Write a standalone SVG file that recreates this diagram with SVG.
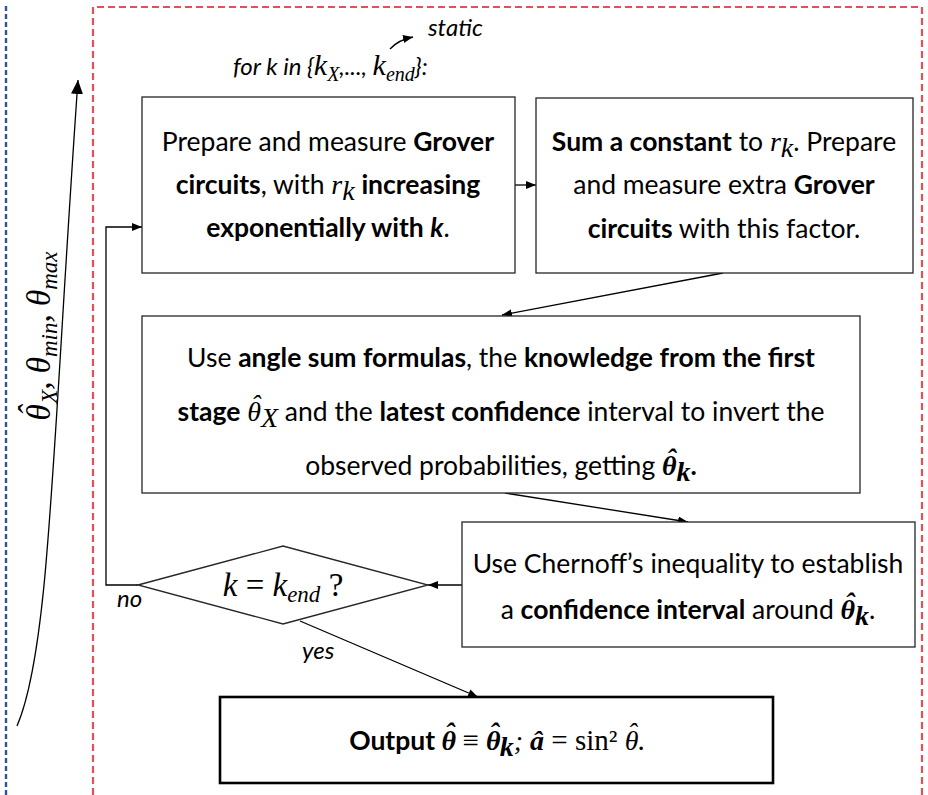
<svg xmlns="http://www.w3.org/2000/svg" width="928" height="795" viewBox="0 0 928 795">
<style>
.box{fill:#fff;stroke:#262626;stroke-width:1.3}
.t{font-family:Lato,"Open Sans",sans-serif;font-size:26.5px;fill:#000;text-anchor:middle}
.b{font-weight:bold}
.m{font-family:"Liberation Serif",serif;font-style:italic;font-size:28px}
.r{font-family:"Liberation Serif",serif;font-size:29px}
.it{font-style:italic}
.c{fill:none;stroke:#000;stroke-width:1.3}
.lab{font-family:Lato,"Open Sans",sans-serif;font-style:italic;font-size:24px;fill:#000}
</style>
<defs>
<marker id="ah" viewBox="0 0 10 8" refX="10" refY="4" markerWidth="10" markerHeight="8" markerUnits="userSpaceOnUse" orient="auto"><path d="M0,0 L10,4 L0,8 z" fill="#000"/></marker>
<marker id="ahbig" viewBox="0 0 14 12" refX="14" refY="6" markerWidth="14" markerHeight="12" markerUnits="userSpaceOnUse" orient="auto"><path d="M0,0 L14,6 L0,12 z" fill="#000"/></marker>
</defs>
<rect width="928" height="795" fill="#fff"/>
<g id="frames">
<path d="M6,6 V795" fill="none" stroke="#2e5597" stroke-width="2.4" stroke-dasharray="5 3"/>
<path d="M93,795 V7 H922 V795" fill="none" stroke="#e3505a" stroke-width="2.2" stroke-dasharray="7 4"/>
</g>
<g id="input-label">
<path d="M17,726 C50,650 52,450 78,80" class="c" marker-end="url(#ahbig)"/>
<text transform="translate(50,336) rotate(-90)" font-family="Liberation Serif,serif" font-style="italic" font-size="33" text-anchor="middle"><tspan dx="0 -12" dy="0 -8">θˆ</tspan><tspan font-size="23" dx="1.5" dy="15">X</tspan><tspan dy="-7">, θ</tspan><tspan font-size="23" dy="7">min</tspan><tspan dy="-7">, θ</tspan><tspan font-size="23" dy="7">max</tspan></text>
</g>
<g id="loop-label">
<text class="lab" x="233" y="75" font-size="26.5">for k in {<tspan font-family="Liberation Serif,serif" font-size="30">k</tspan><tspan font-family="Liberation Serif,serif" font-size="20" dy="6">X</tspan><tspan dy="-6">,..., </tspan><tspan font-family="Liberation Serif,serif" font-size="30">k</tspan><tspan font-family="Liberation Serif,serif" font-size="20" dy="6">end</tspan><tspan dy="-6">}:</tspan></text>
<text class="lab" x="428" y="36">static</text>
<path d="M390,49 Q398,40 413,37" class="c" stroke-width="1.2" marker-end="url(#ah)"/>
</g>
<g id="connectors">
<path d="M515,185 H536" class="c" marker-end="url(#ah)"/>
<path d="M723,273 L502,315" class="c" marker-end="url(#ah)"/>
<path d="M505,493 L688,522" class="c" marker-end="url(#ah)"/>
<path d="M462,585 H428" class="c" marker-end="url(#ah)"/>
<path d="M138,585 H106 V227 H142" class="c" marker-end="url(#ah)"/>
<path d="M300,621 L478,697" class="c" marker-end="url(#ah)"/>
<text class="lab" x="117" y="607">no</text>
<text class="lab" x="302" y="659">yes</text>
</g>
<g id="node-grover">
<rect class="box" x="142" y="97" width="373" height="176"/>
<text class="t" x="328" y="151">Prepare and measure <tspan class="b">Grover</tspan></text>
<text class="t" x="328" y="194"><tspan class="b">circuits</tspan>, with <tspan class="m">r</tspan><tspan class="m" font-size="19" dy="6">k</tspan><tspan dy="-6"> </tspan><tspan class="b">increasing</tspan></text>
<text class="t" x="328" y="237"><tspan class="b">exponentially with </tspan><tspan class="b it">k</tspan>.</text>
</g>
<g id="node-constant">
<rect class="box" x="536" y="98" width="377" height="175"/>
<text class="t" x="724" y="151"><tspan class="b">Sum a constant</tspan> to <tspan class="m">r</tspan><tspan class="m" font-size="19" dy="6">k</tspan><tspan dy="-6">. Prepare</tspan></text>
<text class="t" x="724" y="194">and measure extra <tspan class="b">Grover</tspan></text>
<text class="t" x="724" y="238"><tspan class="b">circuits</tspan> with this factor.</text>
</g>
<g id="node-invert">
<rect class="box" x="142" y="316" width="718" height="177"/>
<text class="t" x="501" y="367">Use <tspan class="b">angle sum formulas</tspan>, the <tspan class="b">knowledge from the first</tspan></text>
<text class="t" x="501" y="421"><tspan class="b">stage</tspan> <tspan class="m" dx="0 -10" dy="0 -7">θˆ</tspan><tspan class="m" font-size="19" dx="0.7" dy="13">X</tspan><tspan dy="-6"> and the </tspan><tspan class="b">latest confidence</tspan> interval to invert the</text>
<text class="t" x="501" y="475">observed probabilities, getting <tspan class="m b" dx="0 -10" dy="0 -7">θˆ</tspan><tspan class="m b" font-size="19" dx="0.7" dy="13">k</tspan><tspan class="b" dy="-6">.</tspan></text>
</g>
<g id="node-chernoff">
<rect class="box" x="462" y="522" width="453" height="125"/>
<text class="t" x="688" y="573">Use Chernoff’s inequality to establish</text>
<text class="t" x="688" y="619">a <tspan class="b">confidence interval</tspan> around <tspan class="m b" dx="0 -10" dy="0 -7">θˆ</tspan><tspan class="m b" font-size="19" dx="0.7" dy="13">k</tspan><tspan dy="-6">.</tspan></text>
</g>
<g id="node-decision">
<polygon class="box" points="138,585 283,546 428,585 283,624"/>
<text x="283" y="596" font-family="Liberation Serif,serif" font-size="33" text-anchor="middle"><tspan font-style="italic">k</tspan> = <tspan font-style="italic">k</tspan><tspan font-style="italic" font-size="23" dy="6">end</tspan><tspan dy="-6"> ?</tspan></text>
</g>
<g id="node-output">
<rect x="220" y="697" width="553" height="86" fill="#fff" stroke="#000" stroke-width="2.6"/>
<text class="t" x="497" y="750" font-size="28"><tspan class="b">Output </tspan><tspan class="m b" font-size="30" dx="0 -11" dy="0 -8">θˆ</tspan><tspan class="r" font-size="30" dx="0.8" dy="8"> ≡ </tspan><tspan class="m b" font-size="30" dx="0 -11" dy="0 -8">θˆ</tspan><tspan class="m b" font-size="20" dx="0.8" dy="14">k</tspan><tspan class="m" font-size="30" dy="-6">;  </tspan><tspan class="m b" font-size="31">â</tspan><tspan class="r" font-size="30"> = sin² </tspan><tspan class="m" font-size="30" dx="0 -11" dy="0 -8">θˆ</tspan><tspan class="r" font-size="30" dx="0.8" dy="8">.</tspan></text>
</g>
</svg>
